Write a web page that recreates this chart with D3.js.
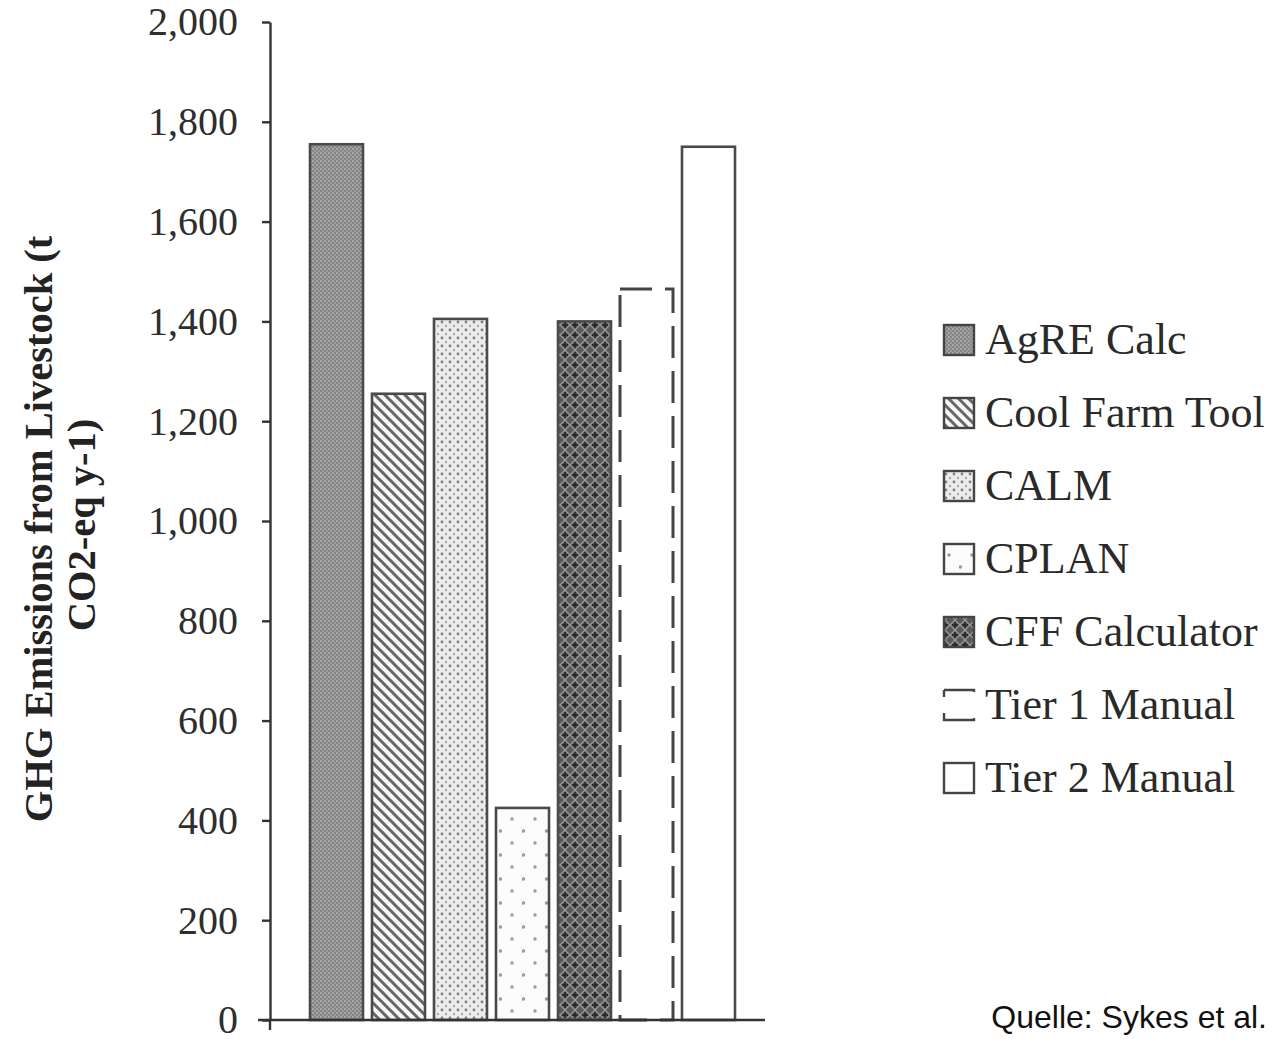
<!DOCTYPE html>
<html><head><meta charset="utf-8">
<script src="https://cdn.jsdelivr.net/npm/d3@7"></script>
<style>
html,body{margin:0;padding:0;background:#fff;}
svg{display:block;}
</style></head>
<body>
<div id="chart"></div>
<script>
const categories = ["AgRE Calc","Cool Farm Tool","CALM","CPLAN","CFF Calculator","Tier 1 Manual","Tier 2 Manual"];
const values = [1755, 1255, 1405, 425, 1400, 1465, 1750];
const yTicks = [0,200,400,600,800,1000,1200,1400,1600,1800,2000];
const yTitleLines = ["GHG Emissions from Livestock (t","CO2-eq y-1)"];
const sourceText = "Quelle: Sykes et al.";
const patternIds = ["pAgre","pCool","pCalm","pCplan","pCff","none","none"];

const W = 1276, H = 1039;
const svg = d3.select("#chart").append("svg").attr("width",W).attr("height",H);
svg.append("rect").attr("width",W).attr("height",H).attr("fill","#fff");
const defs = svg.append("defs");

// patterns
let p = defs.append("pattern").attr("id","pAgre").attr("patternUnits","userSpaceOnUse").attr("width",4).attr("height",4);
p.append("rect").attr("width",4).attr("height",4).attr("fill","#858585");
p.append("rect").attr("width",2).attr("height",2).attr("fill","#a6a6a6");
p.append("rect").attr("x",2).attr("y",2).attr("width",2).attr("height",2).attr("fill","#9c9c9c");

p = defs.append("pattern").attr("id","pCool").attr("patternUnits","userSpaceOnUse").attr("width",10).attr("height",10);
p.append("rect").attr("width",10).attr("height",10).attr("fill","#f6f6f6");
p.append("path").attr("d","M-2,-2L12,12M-2,8L2,12M8,-2L12,2").attr("stroke","#666").attr("stroke-width",3);

p = defs.append("pattern").attr("id","pCalm").attr("patternUnits","userSpaceOnUse").attr("width",8).attr("height",8);
p.append("rect").attr("width",8).attr("height",8).attr("fill","#ececec");
p.append("circle").attr("cx",2).attr("cy",2).attr("r",1.4).attr("fill","#808080");
p.append("circle").attr("cx",6).attr("cy",6).attr("r",1.2).attr("fill","#aaa");

p = defs.append("pattern").attr("id","pCplan").attr("patternUnits","userSpaceOnUse").attr("width",23).attr("height",24).attr("x",500).attr("y",0);
p.append("rect").attr("width",23).attr("height",24).attr("fill","#fbfbfb");
p.append("circle").attr("cx",12).attr("cy",3).attr("r",1.7).attr("fill","#999");
p.append("circle").attr("cx",0.5).attr("cy",15).attr("r",1.7).attr("fill","#999");
p.append("circle").attr("cx",23.5).attr("cy",15).attr("r",1.7).attr("fill","#999");

p = defs.append("pattern").attr("id","pCff").attr("patternUnits","userSpaceOnUse").attr("width",10).attr("height",10);
p.append("rect").attr("width",10).attr("height",10).attr("fill","#5a5a5a");
p.append("path").attr("d","M0,5L5,0L10,5L5,10Z").attr("fill","none").attr("stroke","#9a9a9a").attr("stroke-width",1.2);
p.append("path").attr("d","M5,2L5,8M2,5L8,5").attr("stroke","#222").attr("stroke-width",1.4);

// scales
const x = d3.scaleBand().domain(categories).range([310,735]).paddingInner(0.145).paddingOuter(0);
const y = d3.scaleLinear().domain([0,2000]).range([1020,22]);

const fillFor = i => patternIds[i]==="none" ? "#fff" : `url(#${patternIds[i]})`;

// bars
svg.append("g").selectAll("rect").data(values).join("rect")
  .attr("x",(d,i)=>x(categories[i]))
  .attr("y",d=>y(d))
  .attr("width",x.bandwidth())
  .attr("height",d=>y(0)-y(d))
  .attr("fill",(d,i)=>fillFor(i))
  .attr("stroke",(d,i)=> i===5 ? "#444" : "#4a4a4a")
  .attr("stroke-width",(d,i)=> i===5 ? 3 : 2.6)
  .attr("stroke-dasharray",(d,i)=> i===5 ? "32,13" : null);

// y axis
const yAxis = d3.axisLeft(y).tickValues(yTicks).tickFormat(d3.format(",")).tickSize(8).tickSizeOuter(0).tickPadding(24);
const gy = svg.append("g").attr("transform","translate(270,0)").call(yAxis);
gy.selectAll("text").attr("font-family","'Liberation Serif','Times New Roman',serif").attr("font-size",40).attr("fill","#2e2e2e");
gy.selectAll("line,path").attr("stroke","#333").attr("stroke-width",2.4);
// extend y axis below baseline
svg.append("line").attr("x1",270).attr("x2",270).attr("y1",y(0)).attr("y2",y(0)+10).attr("stroke","#333").attr("stroke-width",2.4);
// x axis
svg.append("line").attr("x1",258).attr("x2",765).attr("y1",y(0)).attr("y2",y(0)).attr("stroke","#333").attr("stroke-width",2.4);

// y title
const tx = [52, 95];
yTitleLines.forEach((t,i)=>{
  svg.append("text").attr("transform",`translate(${tx[i]},${i===0?529:525}) rotate(-90)`)
    .attr("text-anchor","middle")
    .attr("font-family","'Liberation Serif','Times New Roman',serif")
    .attr("font-weight","bold").attr("font-size",40.5).attr("fill","#222").text(t);
});

// legend
const lg = svg.append("g");
categories.forEach((c,i)=>{
  const cy = 340 + i*73;
  lg.append("rect").attr("x",944).attr("y",cy-15).attr("width",30).attr("height",30)
    .attr("fill",fillFor(i)).attr("stroke","#444").attr("stroke-width",2.4)
    .attr("stroke-dasharray", i===5 ? "32,26,39,16,7,0" : null);
  lg.append("text").attr("x",985).attr("y",cy+14)
    .attr("font-family","'Liberation Serif','Times New Roman',serif")
    .attr("font-size",44).attr("fill","#2a2a2a").text(c);
});

// source
svg.append("text").attr("x",1267).attr("y",1028).attr("text-anchor","end")
  .attr("font-family","'Liberation Sans',Arial,sans-serif").attr("font-size",32).attr("fill","#111").text(sourceText);
</script>
</body></html>
